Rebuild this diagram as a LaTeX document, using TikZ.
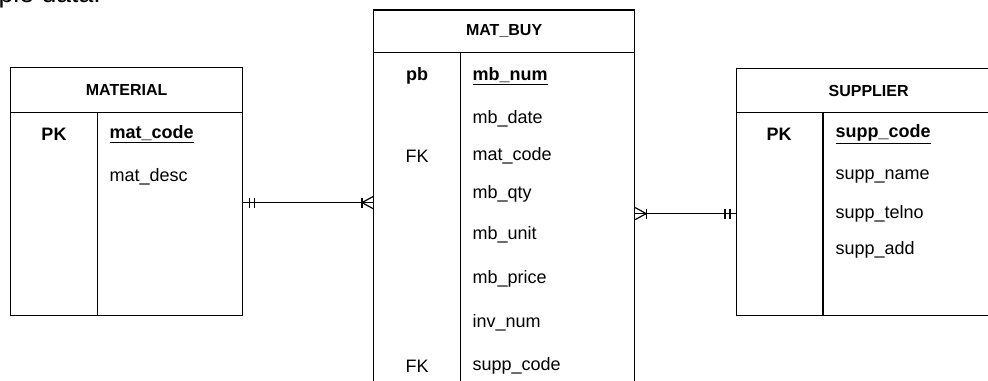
\documentclass[tikz,border=0pt]{standalone}
\usepackage{fontspec}
\setmainfont{Liberation Sans}
\usetikzlibrary{calc}

\begin{document}
\begin{tikzpicture}[x=0.75pt,y=-0.75pt,line width=0.9pt,
  ent/.style={draw,rectangle,inner sep=0pt,anchor=north west},
  title/.style={font=\fontsize{12}{14}\selectfont\bfseries},
  fld/.style={font=\fontsize{13.5}{15}\selectfont,anchor=west,inner sep=0pt},
  key/.style={font=\fontsize{13.5}{15}\selectfont,inner sep=0pt}]
\useasboundingbox (0,0) rectangle (988,381);
\clip (0,0) rectangle (988,381);
\node[fld,font=\fontsize{20}{22}\selectfont,anchor=base west] (prev) at (-2,2.5){ple data.};
% MATERIAL
\node[ent,title,minimum width=174pt,minimum height=33.75pt](mat-head) at (10,67){MATERIAL};
\node[ent,minimum width=174pt,minimum height=152.25pt](mat-body) at (10,112){};
\draw ($(mat-body.north west)+(87.7,0)$) -- ($(mat-body.south west)+(87.7,0)$);
\node[key,font=\fontsize{13.5}{15}\selectfont\bfseries](mat-k1) at (54,134){PK};
\node[fld,font=\fontsize{13.5}{15}\selectfont\bfseries](mat-f1) at (109,134){\underline{mat\_code}};
\node[fld](mat-f2) at (109,177){mat\_desc};
% MAT_BUY
\node[ent,title,minimum width=195.75pt,minimum height=31.875pt](buy-head) at (373,9.5){MAT\_BUY};
\node[ent,minimum width=195.75pt,minimum height=257.25pt](buy-body) at (373,52){};
\draw ($(buy-body.north west)+(87.7,0)$) -- ($(buy-body.south west)+(87.7,0)$);
\node[key,font=\fontsize{13.5}{15}\selectfont\bfseries](buy-k1) at (417,76){pb};
\node[key](buy-k2) at (417,156){FK};
\node[key](buy-k3) at (417,366){FK};
\node[fld,font=\fontsize{13.5}{15}\selectfont\bfseries](buy-f1) at (472,76){\underline{mb\_num}};
\node[fld](buy-f2) at (472,119){mb\_date};
\node[fld](buy-f3) at (472,156){mat\_code};
\node[fld](buy-f4) at (472,194){mb\_qty};
\node[fld](buy-f5) at (472,235){mb\_unit};
\node[fld](buy-f6) at (472,279){mb\_price};
\node[fld](buy-f7) at (472,323){inv\_num};
\node[fld](buy-f8) at (472,366){supp\_code};
% SUPPLIER
\node[ent,title,minimum width=198pt,minimum height=33pt](sup-head) at (736,68){SUPPLIER};
\node[ent,minimum width=198pt,minimum height=152.25pt](sup-body) at (736,112){};
\draw ($(sup-body.north west)+(87,0)$) -- ($(sup-body.south west)+(87,0)$);
\node[key,font=\fontsize{13.5}{15}\selectfont\bfseries](sup-k1) at (779,134){PK};
\node[fld,font=\fontsize{13.5}{15}\selectfont\bfseries](sup-f1) at (835,134){\underline{supp\_code}};
\node[fld](sup-f2) at (835,177){supp\_name};
\node[fld](sup-f3) at (835,214){supp\_telno};
\node[fld](sup-f4) at (835,250){supp\_add};
% relationships
\coordinate (c1a) at ($(mat-body.east)+(0,-11.5)$);
\coordinate (c1b) at (buy-body.west |- c1a);
\draw (c1a) -- (c1b);
\draw ($(c1a)+(6,-5)$) -- ++(0,10);
\draw ($(c1a)+(11,-5)$) -- ++(0,10);
\draw ($(c1b)+(-11,-5)$) -- ++(0,10);
\draw ($(c1b)+(-11,0)$) -- ++(11,-6);
\draw ($(c1b)+(-11,0)$) -- ++(11,6);
\coordinate (c2b) at ($(sup-body.west)+(0,-0.5)$);
\coordinate (c2a) at (buy-body.east |- c2b);
\draw (c2a) -- (c2b);
\draw ($(c2a)+(11,-5)$) -- ++(0,10);
\draw ($(c2a)+(11,0)$) -- ++(-11,-6);
\draw ($(c2a)+(11,0)$) -- ++(-11,6);
\draw ($(c2b)+(-11,-5)$) -- ++(0,10);
\draw ($(c2b)+(-6,-5)$) -- ++(0,10);
\end{tikzpicture}
\end{document}
